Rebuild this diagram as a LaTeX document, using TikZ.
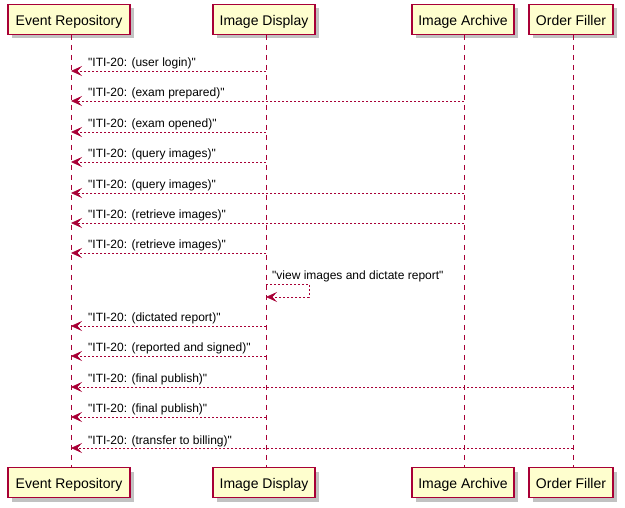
\documentclass[tikz,border=0pt]{standalone}
\usepackage{fontspec}
\setmainfont{Liberation Sans}[Ligatures=TeXOff]
\usetikzlibrary{shadows,arrows.meta}
\definecolor{pred}{HTML}{A80036}
\definecolor{pfill}{HTML}{FEFECE}
\newcommand{\qd}{\char34\relax}
\begin{document}
\begin{tikzpicture}[x=1pt,y=-1pt,
  part/.style={draw=pred,fill=pfill,line width=1.1pt,minimum height=30pt,inner xsep=0pt,
    text height=13pt,text depth=0pt,font=\fontsize{14}{16}\selectfont,
    drop shadow={shadow xshift=4pt,shadow yshift=-4pt,opacity=0.4,fill=black!60}},
  life/.style={draw=pred,line width=0.8pt,dash pattern=on 5pt off 5pt},
  msg/.style={draw=pred,line width=0.8pt,dash pattern=on 2pt off 2pt,-{Stealth[length=11pt,width=10pt,inset=4.5pt]}},
  lbl/.style={anchor=base west,inner sep=0pt,font=\fontsize{12}{14}\selectfont}]
\useasboundingbox (0,0) rectangle (625,508);
% participants
\node[part,minimum width=122pt] (ert) at (69,19.5) {Event Repository};
\node[part,minimum width=102pt] (idt) at (264,19.5) {Image Display};
\node[part,minimum width=102pt] (iat) at (463,19.5) {Image Archive};
\node[part,minimum width=84pt] (oft) at (571,19.5) {Order Filler};
\node[part,minimum width=122pt] (erb) at (69,482.5) {Event Repository};
\node[part,minimum width=102pt] (idb) at (264,482.5) {Image Display};
\node[part,minimum width=102pt] (iab) at (463,482.5) {Image Archive};
\node[part,minimum width=84pt] (ofb) at (571,482.5) {Order Filler};
% lifeline coordinates
\coordinate (erT) at (71,35); \coordinate (erB) at (71,467);
\coordinate (idT) at (266,35); \coordinate (idB) at (266,467);
\coordinate (iaT) at (464,35); \coordinate (iaB) at (464,467);
\coordinate (ofT) at (573,35); \coordinate (ofB) at (573,467);
\draw[life] (erT) -- (erB);
\draw[life] (idT) -- (idB);
\draw[life] (iaT) -- (iaB);
\draw[life] (ofT) -- (ofB);
% messages
\foreach \i/\y/\sx/\t in {1/71/266/ITI-20: (user login),
  2/101/464/ITI-20: (exam prepared),
  3/132/266/ITI-20: (exam opened),
  4/162/266/ITI-20: (query images),
  5/193/464/ITI-20: (query images),
  6/223/464/ITI-20: (retrieve images),
  7/253/266/ITI-20: (retrieve images),
  9/326/266/ITI-20: (dictated report),
  10/356/266/ITI-20: (reported and signed),
  11/387/573/ITI-20: (final publish),
  12/417/266/ITI-20: (final publish),
  13/448/573/ITI-20: (transfer to billing)}{
  \coordinate (s\i) at (\sx,\y);
  \coordinate (t\i) at (71,\y);
  \draw[msg] (s\i) -- (t\i);
  \node[lbl] (m\i) at (88,\y-4) {\qd\t\qd};
}
% self message
\coordinate (sa) at (266,284);
\coordinate (sb) at (309,284);
\coordinate (sc) at (309,297);
\coordinate (sd) at (266,297);
\draw[msg] (sa) -- (sb) -- (sc) -- (sd);
\node[lbl] (m8) at (272,280) {\qd view images and dictate report\qd};
\end{tikzpicture}
\end{document}
